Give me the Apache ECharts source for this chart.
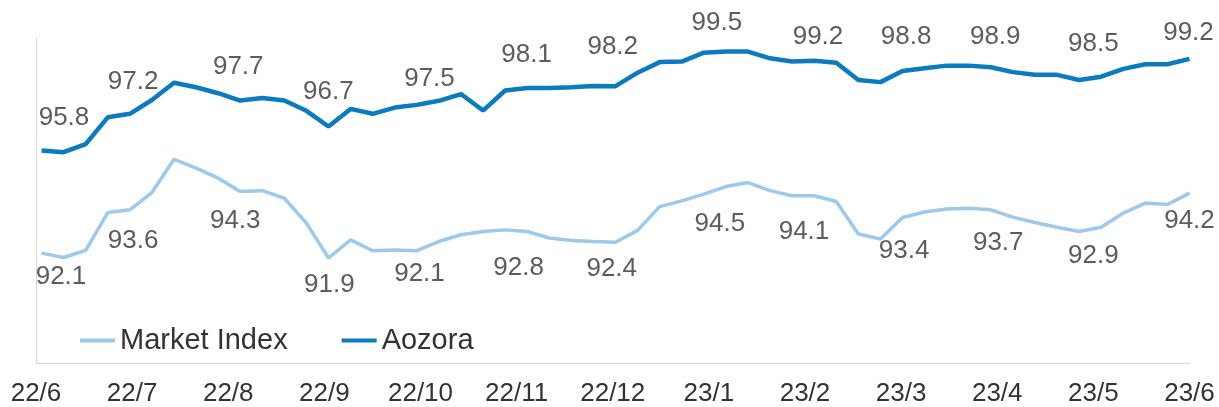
<!DOCTYPE html>
<html>
<head>
<meta charset="utf-8">
<script src="https://cdn.jsdelivr.net/npm/echarts@6/dist/echarts.min.js"></script>
<style>
html,body{margin:0;padding:0;background:#ffffff;}
#chart{width:1219px;height:407px;}
</style>
</head>
<body>
<div id="chart"></div>
<script>
// ---- data ----
const monthLabels = ['22/6','22/7','22/8','22/9','22/10','22/11','22/12','23/1','23/2','23/3','23/4','23/5','23/6'];

// weekly values (53 weeks, Jun 2022 - Jun 2023)
const aozora = [95.85,95.79,96.09,97.08,97.21,97.72,98.36,98.19,97.97,97.70,97.79,97.70,97.32,96.74,
  97.39,97.21,97.44,97.54,97.69,97.94,97.33,98.07,98.16,98.16,98.19,98.24,98.23,98.73,99.12,99.14,
  99.47,99.51,99.51,99.26,99.14,99.17,99.10,98.46,98.38,98.79,98.89,98.99,98.99,98.93,98.75,98.65,
  98.65,98.46,98.58,98.87,99.04,99.04,99.24];
const market = [92.06,91.90,92.16,93.56,93.66,94.30,95.53,95.20,94.83,94.34,94.37,94.09,93.17,91.88,
  92.55,92.15,92.18,92.15,92.49,92.74,92.86,92.92,92.86,92.62,92.53,92.49,92.46,92.90,93.78,93.99,
  94.24,94.52,94.67,94.37,94.18,94.18,93.97,92.77,92.58,93.38,93.58,93.69,93.72,93.66,93.39,93.19,
  93.02,92.86,93.02,93.54,93.91,93.86,94.28];

// monthly labelled values
const aozoraMonthly = [95.8,97.2,97.7,96.7,97.5,98.1,98.2,99.5,99.2,98.8,98.9,98.5,99.2];
const marketMonthly = [92.1,93.6,94.3,91.9,92.1,92.8,92.4,94.5,94.1,93.4,93.7,92.9,94.2];

// ---- layout / style ----
const C_DARK = '#0A7BC1';
const C_LIGHT = '#9DC9EC';
const TXT = '#333333';
const FONT = '"Liberation Sans", Arial, Helvetica, sans-serif';

// label nudges (pixels) relative to each monthly point
const aozoraLabelNudge = [[28,-34],[1,-32],[10,-34],[4,-36],[9,-27],[10,-35],[0,-40],[8,-29],[13,-23],[5,-34],[-2,-31],[0,-35],[-1,-27]];
const marketLabelNudge = [[25,25],[1,29],[7,28],[5,27],[-1,22],[2,35],[-1,25],[11,37],[-1,34],[3,34],[1,34],[0,25],[0,26]];

// weekly positions on a month scale (first week ends just after 22/6, last on 23/6)
const weekX = aozora.map((_, i) => (i + 0.25) * 12 / 52.25);

function weekly(vals) { return vals.map((v, i) => [weekX[i], v]); }
function monthlyLabels(vals, nudges) {
  return vals.map((v, m) => ({
    value: [m, v],
    label: { offset: nudges[m] }
  }));
}

const chart = echarts.init(document.getElementById('chart'), null, { renderer: 'canvas' });

const labelStyle = {
  show: true,
  position: 'inside',
  fontSize: 26,
  fontFamily: FONT,
  color: TXT,
  formatter: p => p.value[1].toFixed(1)
};

chart.setOption({
  animation: false,
  backgroundColor: '#ffffff',
  grid: { left: 36, right: 29.5, top: 38.3, bottom: 43.7, containLabel: false },
  legend: {
    data: [
      { name: 'Market Index', icon: 'rect', itemStyle: { color: C_LIGHT } },
      { name: 'Aozora', icon: 'rect', itemStyle: { color: C_DARK } }
    ],
    left: 80,
    top: 326,
    padding: 0,
    itemWidth: 35,
    itemHeight: 4,
    itemGap: 54,
    textStyle: { fontSize: 29, fontFamily: FONT, color: TXT }
  },
  xAxis: {
    type: 'value',
    min: 0,
    max: 12,
    interval: 1,
    axisLine: { show: true, onZero: false, lineStyle: { color: '#D9D9D9', width: 1 } },
    axisTick: { show: false },
    splitLine: { show: false },
    axisLabel: {
      margin: 18,
      fontSize: 26,
      fontFamily: FONT,
      color: TXT,
      formatter: v => monthLabels[Math.round(v)]
    }
  },
  yAxis: {
    type: 'value',
    min: 88,
    max: 100,
    axisLine: { show: true, lineStyle: { color: '#D9D9D9', width: 1 } },
    axisTick: { show: false },
    axisLabel: { show: false },
    splitLine: { show: false }
  },
  series: [
    {
      name: 'Market Index',
      type: 'line',
      data: weekly(market),
      symbol: 'none',
      lineStyle: { color: C_LIGHT, width: 3.5 },
      itemStyle: { color: C_LIGHT },
      z: 2
    },
    {
      name: 'Aozora',
      type: 'line',
      data: weekly(aozora),
      symbol: 'none',
      lineStyle: { color: C_DARK, width: 4.5 },
      itemStyle: { color: C_DARK },
      z: 3
    },
    {
      name: 'Market Index labels',
      type: 'scatter',
      data: monthlyLabels(marketMonthly, marketLabelNudge),
      symbolSize: 0,
      silent: true,
      label: labelStyle,
      z: 4
    },
    {
      name: 'Aozora labels',
      type: 'scatter',
      data: monthlyLabels(aozoraMonthly, aozoraLabelNudge),
      symbolSize: 0,
      silent: true,
      label: labelStyle,
      z: 4
    }
  ]
});
</script>
</body>
</html>
